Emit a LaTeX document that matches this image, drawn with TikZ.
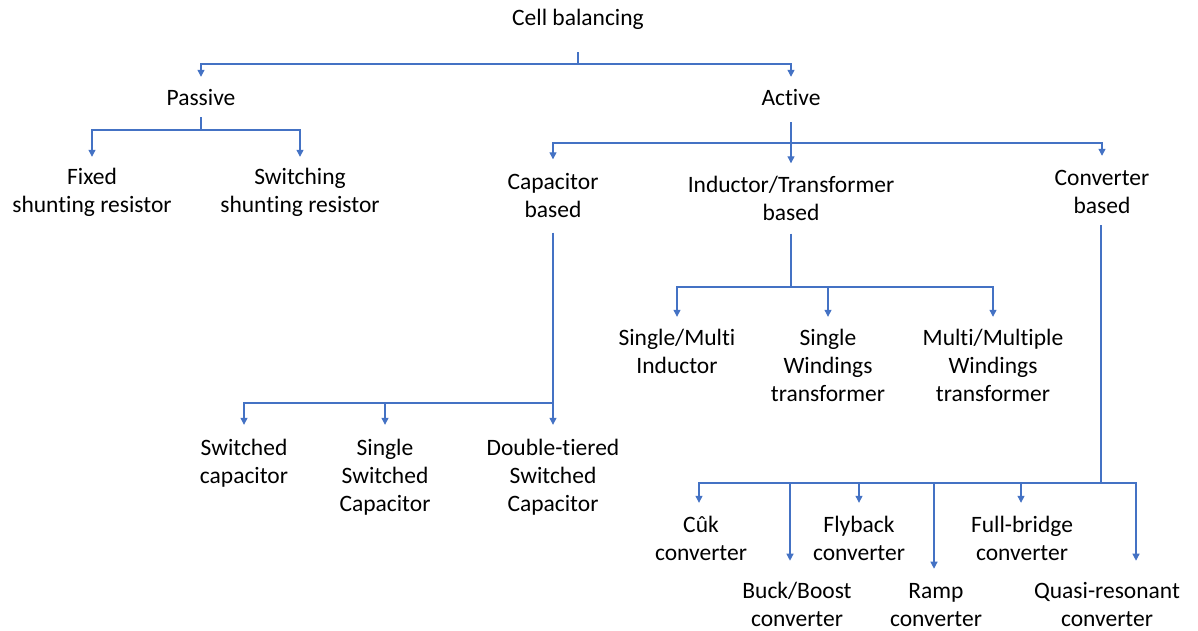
\documentclass[tikz,border=0pt]{standalone}
\usepackage{fontspec}
\setmainfont{Carlito}[Ligatures=NoCommon]
\usetikzlibrary{arrows.meta}
\definecolor{lineblue}{HTML}{4472C4}
\begin{document}
\begin{tikzpicture}[x=1pt,y=-1pt,
  lbl/.style={inner sep=0pt, align=center, font=\fontsize{23.5}{28}\selectfont, text=black},
  ln/.style={draw=lineblue, line width=1.2pt},
  arr/.style={ln, -{Triangle[width=7pt,length=7pt]}}]
\useasboundingbox (0,0) rectangle (1198,630);
% nodes
\node[lbl] (root) at (578,20) {\strut Cell balancing};
\node[lbl] (passive) at (201,100) {\strut Passive};
\node[lbl] (active) at (791,100) {\strut Active};
\node[lbl] (fixed) at (92,193) {\strut Fixed\\\strut shunting resistor};
\node[lbl] (switching) at (300,193) {\strut Switching\\\strut shunting resistor};
\node[lbl] (cap) at (553,197.5) {\strut Capacitor\\\strut based};
\node[lbl] (ind) at (791,200.5) {\strut Inductor/Transformer\\\strut based};
\node[lbl] (conv) at (1102,194) {\strut Converter\\\strut based};
\node[lbl] (swcap) at (244,464) {\strut Switched\\\strut capacitor};
\node[lbl] (sscap) at (385,478) {\strut Single\\\strut Switched\\\strut Capacitor};
\node[lbl] (dtcap) at (553,478) {\strut Double-tiered\\\strut Switched\\\strut Capacitor};
\node[lbl] (smind) at (677,354) {\strut Single/Multi\\\strut Inductor};
\node[lbl] (swtr) at (828,368) {\strut Single\\\strut Windings\\\strut transformer};
\node[lbl] (mwtr) at (993,368) {\strut Multi/Multiple\\\strut Windings\\\strut transformer};
\node[lbl] (cuk) at (701,541) {\strut Cûk\\\strut converter};
\node[lbl] (fly) at (859,541) {\strut Flyback\\\strut converter};
\node[lbl] (full) at (1022,541) {\strut Full-bridge\\\strut converter};
\node[lbl] (buck) at (797,602.8) {\strut Buck/Boost\\converter};
\node[lbl] (ramp) at (936,602.8) {\strut Ramp\\converter};
\node[lbl] (quasi) at (1107,602.8) {\strut Quasi-resonant\\converter};
% junctions
\coordinate (j0) at (578,64);
\coordinate (jp) at (201,130);
\coordinate (ja) at (791,143);
\coordinate (jcap) at (553,403);
\coordinate (jind) at (791,287);
\coordinate (jconv) at (1101,483);
% root
\draw[ln] ([yshift=-18pt]root.south) -- (j0);
\draw[arr] (j0) -| ([yshift=9pt]passive.north);
\draw[arr] (j0) -| ([yshift=9pt]active.north);
% passive
\draw[ln] ([yshift=-3pt]passive.south) -- (jp);
\draw[arr] (jp) -| ([yshift=8pt]fixed.north);
\draw[arr] (jp) -| ([yshift=8pt]switching.north);
% active
\draw[ln] ([yshift=-8pt]active.south) -- (ja);
\draw[arr] (ja) -| ([yshift=10pt]cap.north);
\draw[arr] (ja) -- ([yshift=9pt]ind.north);
\draw[arr] (ja) -| ([yshift=10pt]conv.north);
% capacitor based
\draw[ln] ([yshift=-7pt]cap.south) -- (jcap);
\draw[arr] (jcap) -| ([yshift=11pt]swcap.north);
\draw[arr] (jcap) -| ([yshift=11pt]sscap.north);
\draw[arr] (jcap) -- ([yshift=11pt]dtcap.north);
% inductor based
\draw[ln] ([yshift=-5pt]ind.south) -- (jind);
\draw[arr] (jind) -| ([yshift=9pt]smind.north);
\draw[arr] (jind) -| ([yshift=9pt]swtr.north);
\draw[arr] (jind) -| ([yshift=9pt]mwtr.north);
% converter based
\draw[ln] ([yshift=-3pt,xshift=-1pt]conv.south) -- (jconv);
\draw[arr] (jconv) -| ([xshift=-2pt,yshift=10pt]cuk.north);
\draw[arr] (jconv) -| ([yshift=10pt]fly.north);
\draw[arr] (jconv) -| ([xshift=-1pt,yshift=10pt]full.north);
\draw[arr] (jconv) -| ([xshift=-7pt,yshift=18pt]buck.north);
\draw[arr] (jconv) -| ([xshift=-2pt,yshift=10pt]ramp.north);
\draw[arr] (jconv) -| ([xshift=29pt,yshift=18pt]quasi.north);
\end{tikzpicture}
\end{document}
